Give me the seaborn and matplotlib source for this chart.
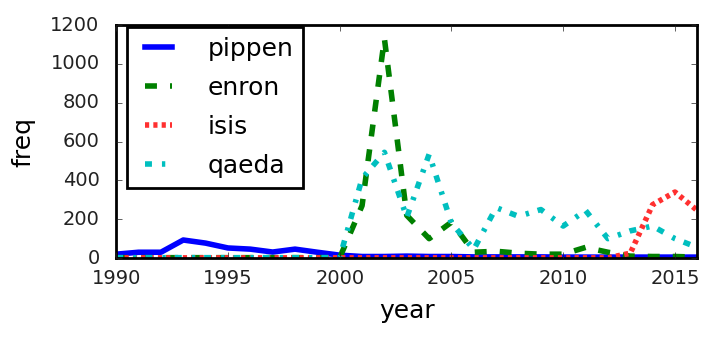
import matplotlib
matplotlib.use('Agg')
import matplotlib.pyplot as plt
import seaborn as sns
import pandas as pd

# yearly frequencies
years = list(range(1990, 2017))
pippen = [20, 30, 30, 93, 77, 52, 46, 31, 46, 30, 15, 8, 8, 10, 8, 8, 6, 6, 6, 6, 5, 5, 5, 5, 5, 5, 5]
enron = [2, 2, 2, 2, 2, 2, 2, 2, 2, 2, 2, 270, 1130, 220, 100, 185, 30, 35, 25, 20, 20, 55, 30, 10, 8, 8, 5]
isis = [1, 1, 1, 1, 1, 1, 1, 1, 1, 1, 1, 1, 1, 1, 1, 1, 1, 1, 1, 1, 1, 1, 1, 25, 275, 340, 245]
qaeda = [2, 2, 2, 2, 2, 2, 2, 2, 2, 2, 2, 410, 545, 210, 535, 180, 45, 260, 215, 250, 165, 245, 100, 140, 165, 100, 55]

terms = ['pippen', 'enron', 'isis', 'qaeda']
series = [pippen, enron, isis, qaeda]
colors = ['#0000ff', '#008000', '#ff3030', '#00bfbf']
styles = ['-', (0, (8.6, 9.4)), (0, (3, 3)), (0, (5, 7.2, 2.4, 6.5))]

plt.style.use('classic')
plt.rcParams['lines.scale_dashes'] = False

fig = plt.figure(figsize=(7.13, 3.4), dpi=100)
ax = fig.add_axes([0.163, 0.241, 0.815, 0.685])

for term, vals, col, ls in zip(terms, series, colors, styles):
    df = pd.DataFrame({'year': years, 'freq': vals})
    sns.lineplot(data=df, x='year', y='freq', ax=ax, color=col, linestyle=ls,
                 linewidth=4, label=term)

ax.set_xlim(1990, 2016)
ax.set_ylim(0, 1200)
ax.set_xticks(range(1990, 2016, 5))
ax.set_yticks(range(0, 1201, 200))
ax.ticklabel_format(useOffset=False, style='plain')
ax.tick_params(labelsize=14, colors='#222222')
ax.tick_params(axis='x', pad=8)
ax.tick_params(axis='y', pad=12)
for s in ax.spines.values():
    s.set_linewidth(2)
ax.set_xlabel('year', fontsize=18, labelpad=8)
ax.set_ylabel('freq', fontsize=18, labelpad=11)
leg = ax.legend(loc='upper left', bbox_to_anchor=(0.019, 0.993), borderaxespad=0,
                fontsize=18, handlelength=1.7, handletextpad=1.1, labelspacing=0.6,
                frameon=True, fancybox=False)
leg.get_frame().set_linewidth(2)

fig.savefig('out.png', dpi=100)
